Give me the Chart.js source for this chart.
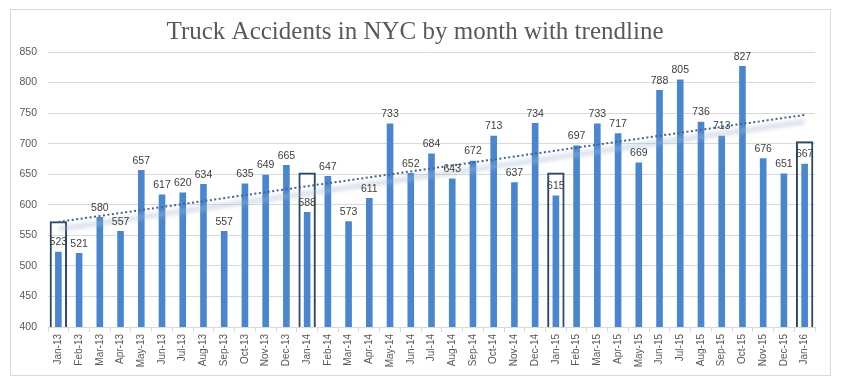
<!DOCTYPE html>
<html>
<head>
<meta charset="utf-8">
<script src="https://cdn.jsdelivr.net/npm/chart.js@4.4.1/dist/chart.umd.min.js"></script>
<style>
  html, body { margin: 0; padding: 0; background: #ffffff; }
  canvas { display: block; }
</style>
</head>
<body>
<canvas id="c" width="849" height="388"></canvas>
<script>
// ---- data ----
const titleText = 'Truck Accidents in NYC by month with trendline';
const categories = ['Jan-13','Feb-13','Mar-13','Apr-13','May-13','Jun-13','Jul-13','Aug-13','Sep-13','Oct-13','Nov-13','Dec-13',
  'Jan-14','Feb-14','Mar-14','Apr-14','May-14','Jun-14','Jul-14','Aug-14','Sep-14','Oct-14','Nov-14','Dec-14',
  'Jan-15','Feb-15','Mar-15','Apr-15','May-15','Jun-15','Jul-15','Aug-15','Sep-15','Oct-15','Nov-15','Dec-15',
  'Jan-16'];
const accidents = [523,521,580,557,657,617,620,634,557,635,649,665,
  588,647,573,611,733,652,684,643,672,713,637,734,
  615,697,733,717,669,788,805,736,713,827,676,651,
  667];
// highlight boxes around January bars (top value of each box)
const januaryBoxes = [573,null,null,null,null,null,null,null,null,null,null,null,
  653,null,null,null,null,null,null,null,null,null,null,null,
  653,null,null,null,null,null,null,null,null,null,null,null,
  704];
// trendline end values
const trendline = [572,null,null,null,null,null,null,null,null,null,null,null,
  null,null,null,null,null,null,null,null,null,null,null,null,
  null,null,null,null,null,null,null,null,null,null,null,null,
  747];
const yTicks = [400,450,500,550,600,650,700,750,800,850];

const bgPlugin = {
  id: 'bg',
  beforeDraw(chart) {
    const ctx = chart.ctx;
    ctx.save();
    ctx.fillStyle = '#ffffff';
    ctx.fillRect(0, 0, chart.width, chart.height);
    ctx.strokeStyle = '#D9D9D9';
    ctx.lineWidth = 1;
    ctx.strokeRect(10.5, 9.5, 820, 366);
    ctx.fillStyle = '#595959';
    ctx.font = '25px "Liberation Serif", serif';
    ctx.textAlign = 'center';
    ctx.textBaseline = 'alphabetic';
    ctx.fillText(titleText, 415, 39);
    ctx.restore();
  }
};

const shadowPlugin = {
  id: 'trendShadow',
  beforeDatasetDraw(chart, args) {
    if (args.index !== 2) return;
    const meta = chart.getDatasetMeta(2);
    const pts = meta.data.filter((p, i) => trendline[i] !== null);
    if (pts.length < 2) return;
    const ctx = chart.ctx;
    ctx.save();
    ctx.filter = 'blur(2px)';
    ctx.strokeStyle = 'rgba(170,185,208,0.5)';
    ctx.lineWidth = 4.5;
    ctx.lineCap = 'round';
    ctx.beginPath();
    ctx.moveTo(pts[0].x + 2, pts[0].y + 7);
    ctx.lineTo(pts[pts.length - 1].x - 2, pts[pts.length - 1].y + 7);
    ctx.stroke();
    ctx.restore();
  }
};

const labelPlugin = {
  id: 'valueLabels',
  afterDatasetsDraw(chart) {
    const ctx = chart.ctx;
    const meta = chart.getDatasetMeta(0);
    ctx.save();
    ctx.fillStyle = '#404040';
    ctx.font = '10.5px "Liberation Sans", Arial, sans-serif';
    ctx.textAlign = 'center';
    ctx.textBaseline = 'bottom';
    meta.data.forEach((bar, i) => {
      ctx.fillText(String(accidents[i]), bar.x, bar.y - 4);
    });
    ctx.restore();
  }
};

new Chart(document.getElementById('c'), {
  type: 'bar',
  data: {
    labels: categories,
    datasets: [
      {
        label: 'Accidents',
        data: accidents,
        backgroundColor: '#4A86D0',
        borderWidth: 0,
        grouped: false,
        barPercentage: 0.32,
        categoryPercentage: 1,
        order: 3
      },
      {
        label: 'January',
        data: januaryBoxes,
        backgroundColor: 'rgba(0,0,0,0)',
        borderColor: '#2D4668',
        borderWidth: 2,
        borderSkipped: false,
        grouped: false,
        barPercentage: 0.84,
        categoryPercentage: 1,
        order: 2
      },
      {
        type: 'line',
        label: 'Trend',
        data: trendline,
        spanGaps: true,
        borderColor: '#3F64A0',
        borderWidth: 2,
        borderDash: [2, 2.5],
        pointRadius: 0,
        fill: false,
        order: 1
      }
    ]
  },
  options: {
    responsive: false,
    animation: false,
    devicePixelRatio: 1,
    layout: { padding: { left: 10, right: 34, top: 52, bottom: 0 } },
    plugins: {
      legend: { display: false },
      title: { display: false },
      tooltip: { enabled: false }
    },
    scales: {
      x: {
        offset: true,
        grid: { display: true, drawOnChartArea: false, drawTicks: true, tickLength: 5, color: '#D9D9D9', offset: true },
        border: { display: true, color: '#D9D9D9' },
        ticks: {
          autoSkip: false,
          minRotation: 90,
          maxRotation: 90,
          padding: 2,
          color: '#595959',
          font: { family: '"Liberation Sans", Arial, sans-serif', size: 10 }
        },
        afterFit(scale) { scale.height = 61; }
      },
      y: {
        min: 400,
        max: 850,
        afterBuildTicks(scale) { scale.ticks = yTicks.map(v => ({ value: v })); },
        grid: { color: '#D9D9D9', drawTicks: false },
        border: { display: false },
        ticks: {
          padding: 11,
          color: '#595959',
          font: { family: '"Liberation Sans", Arial, sans-serif', size: 10.5 }
        },
        afterFit(scale) { scale.width = 38; }
      }
    }
  },
  plugins: [bgPlugin, shadowPlugin, labelPlugin]
});
</script>
</body>
</html>
